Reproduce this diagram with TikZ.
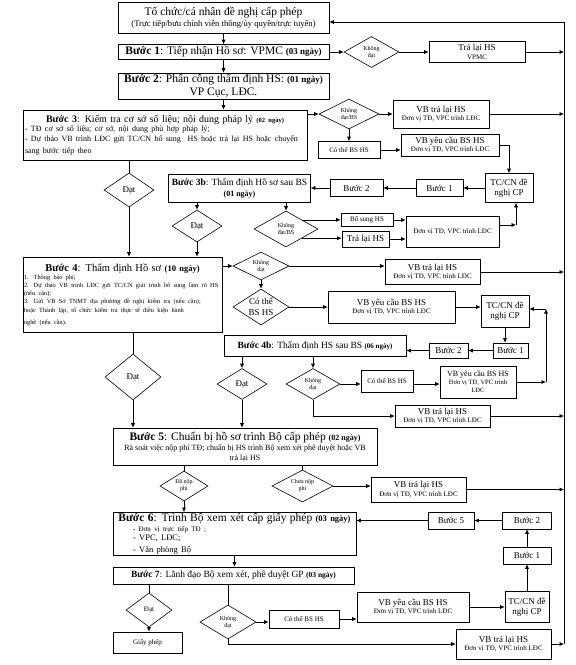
\documentclass[tikz,border=0pt]{standalone}
\usepackage{fontspec}
\setmainfont{Liberation Serif}
\usetikzlibrary{shapes.geometric,arrows.meta}

\newcommand{\ftitle}{\fontsize{11.5}{13}\selectfont}
\newcommand{\fmid}{\fontsize{9}{10.5}\selectfont}
\newcommand{\fsmall}{\fontsize{7}{8.2}\selectfont}
\newcommand{\ftiny}{\fontsize{6}{7}\selectfont}
\newcommand{\ngay}[2][9]{{\fontsize{#1}{#1}\selectfont\textbf{(#2 ngày)}}}

\begin{document}
\begin{tikzpicture}[x=1pt,y=-1pt,
  box/.style={draw, line width=0.6pt, inner sep=1pt, align=center},
  dia/.style={draw, diamond, shape aspect=1.6, line width=0.6pt, inner sep=0pt, align=center},
  wh/.style 2 args={minimum width=#1pt, minimum height=#2pt},
  arr/.style={-{Latex[length=4.5pt,width=4pt]}, line width=0.6pt},
  ln/.style={line width=0.6pt}]

\useasboundingbox (0,0) rectangle (576,665);
\coordinate (railtop) at (564,22);
\coordinate (railbot) at (564,644);

% Tổ chức/cá nhân đề nghị
\node[box, wh={211}{31}, font=\ftitle] (top) at (223.5,17.5) {Tổ chức/cá nhân đề nghị cấp phép\\[-2pt]{\fontsize{8.6}{9.5}\selectfont (Trực tiếp/bưu chính viễn thông/ủy quyền/trực tuyến)}};

% Bước 1
\node[box, wh={211}{15}, font=\ftitle] (s1) at (223.5,52) {\textbf{Bước 1}: Tiếp nhận Hồ sơ: VPMC \ngay{03}};
\node[dia, wh={55}{31}, font=\ftiny] (d1) at (371.5,52) {Không\\đạt};
\node[box, wh={96}{21}, font=\fmid] (b1) at (477,52) {Trả lại HS\\[-2pt]{\fsmall VPMC}};

% Bước 2
\node[box, wh={211}{26}, font=\ftitle] (s2) at (223.5,86) {\textbf{Bước 2}: Phân công thẩm định HS: \ngay{01}\\VP Cục, LĐC.};

% Bước 3
\node[box, wh={284}{50}, text width=280pt, align=left] (s3) at (165,135) {{\centering\fontsize{10}{12}\selectfont\textbf{Bước 3}: Kiểm tra cơ sở số liệu; nội dung pháp lý \ngay[6.5]{02}\par}\raggedright\fontsize{8}{9.5}\selectfont - TĐ cơ sở số liệu; cơ sở, nội dung phù hợp pháp lý;\\- Dự thảo VB trình LĐC gửi TC/CN bổ sung~ HS hoặc trả lại HS hoặc chuyển\\sang bước tiếp theo};
\node[dia, wh={60}{30}, font=\ftiny] (d3) at (349,114) {Không\\đạt/BS};
\node[box, wh={96}{28}, font=\fmid] (vb3) at (441,114) {VB trả lại HS\\[-2pt]{\fsmall Đơn vị TĐ, VPC trình LĐC}};
\node[box, wh={62}{17}, font=\fsmall] (ct3) at (349,150) {Có thể BS HS};
\node[box, wh={98}{22}, font=\fmid] (yc3) at (450,145) {VB yêu cầu BS HS\\[-2pt]{\fsmall Đơn vị TĐ, VPC trình LĐC}};
\node[box, wh={48}{29}, font=\fmid] (tc3) at (509,188) {TC/CN đề\\nghị CP};
\node[box, wh={47}{17}, font=\fmid] (b31) at (439.5,188) {Bước 1};
\node[box, wh={53}{17}, font=\fmid] (b32) at (356.5,188) {Bước 2};
\node[dia, wh={50}{34}, font=\fmid] (d3ok) at (129,190) {Đạt};

% Bước 3b
\node[box, wh={142}{28}, font=\fontsize{9.5}{11}\selectfont] (s3b) at (239.5,188) {\textbf{Bước 3b}: Thẩm định Hồ sơ sau BS\\\ngay[8]{01}};
\node[dia, wh={50}{32}, font=\fmid] (d3bok) at (197,226) {Đạt};
\node[dia, wh={64}{36}, font=\ftiny] (d3bno) at (286,229) {Không\\đạt/BS};
\node[box, wh={52}{13}, font=\fsmall] (bs3b) at (367,220) {Bổ sung HS};
\node[box, wh={47}{16}, font=\fmid] (tl3b) at (365.5,239) {Trả lại HS};
\node[box, wh={93}{31}, font=\fsmall] (dv3b) at (452.5,231.5) {Đơn vị TĐ, VPC trình LĐC};
\coordinate (j3b) at (516,225);

% Bước 4
\node[box, wh={199}{75}, text width=197pt, inner sep=1pt, align=left] (s4) at (122.5,294.5) {{\centering\fontsize{10.5}{12.5}\selectfont\textbf{Bước 4}: Thẩm định Hồ sơ \ngay[8.5]{10}\par}\raggedright\fontsize{6.3}{8.2}\selectfont 1. Thông báo phí;\\2. Dự thảo VB trình LĐC gửi TC/CN giải trình bổ sung làm rõ HS\\(nếu cần);\\3. Gửi VB Sở TNMT địa phương đề nghị kiểm tra (nếu cần);\\hoặc Thành lập, tổ chức kiểm tra thực tế điều kiện hành\\nghề (nếu cần).};
\node[dia, wh={56}{28}, font=\ftiny] (d4no) at (261,266) {Không\\đạt};
\node[dia, wh={56}{36}, font=\fmid] (d4bs) at (261,307) {Có thể\\BS HS};
\node[box, wh={95}{25}, font=\fmid] (vb4) at (432.5,272) {VB trả lại HS\\[-2pt]{\fsmall Đơn vị TĐ, VPC trình LĐC}};
\node[box, wh={127}{32}, font=\fmid] (yc4) at (391.5,307) {VB yêu cầu BS HS\\[-2pt]{\fsmall Đơn vị TĐ, VPC trình LĐC}};
\node[box, wh={48}{32}, font=\fmid] (tc4) at (505,311) {TC/CN đề\\nghị CP};
\node[box, wh={35}{15}, font=\fmid] (b41) at (510.5,350.5) {Bước 1};
\node[box, wh={39}{15}, font=\fmid] (b42) at (448.5,350.5) {Bước 2};
\coordinate (j4t) at (546,309);
\coordinate (j4b) at (546,382);
\node[dia, wh={56}{46}, font=\fmid] (d4ok) at (133,377) {Đạt};

% Bước 4b
\node[box, wh={182}{21}, font=\fontsize{9.5}{11}\selectfont] (s4b) at (315,345.5) {\textbf{Bước 4b}: Thẩm định HS sau BS \ngay[7]{06}};
\node[dia, wh={50}{31}, font=\fmid] (d4bok) at (242,384) {Đạt};
\node[dia, wh={54}{31}, font=\ftiny] (d4bno) at (313,384) {Không\\đạt};
\node[box, wh={52}{22}, font=\fsmall] (ct4b) at (387,381) {Có thể BS HS};
\node[box, wh={76}{32}, font=\fontsize{8}{9}\selectfont] (yc4b) at (478,382) {VB yêu cầu BS HS\\[-1pt]{\fontsize{6.5}{7.5}\selectfont Đơn vị TĐ, VPC trình}\\[-1pt]{\fontsize{6.5}{7.5}\selectfont LĐC}};
\node[box, wh={95}{22}, font=\fmid] (vb4b) at (442.5,416) {VB trả lại HS\\[-2pt]{\fsmall Đơn vị TĐ, VPC trình LĐC}};

% Bước 5
\node[box, wh={264}{37}, font=\ftitle] (s5) at (245,446.5) {\textbf{Bước 5}: Chuẩn bị hồ sơ trình Bộ cấp phép \ngay[8]{02}\\[-3pt]{\fontsize{8}{9.5}\selectfont Rà soát việc nộp phí TĐ; chuẩn bị HS trình Bộ xem xét phê duyệt hoặc VB}\\[-3pt]{\fontsize{8}{9.5}\selectfont trả lại HS}};
\node[dia, wh={48}{30}, font=\ftiny] (d5ok) at (184,486) {Đã nộp\\phí};
\node[dia, wh={61}{32}, font=\ftiny] (d5no) at (302.5,486) {Chưa nộp\\phí};
\node[box, wh={95}{25}, font=\fmid] (vb5) at (418.5,489.5) {VB trả lại HS\\[-2pt]{\fsmall Đơn vị TĐ, VPC trình LĐC}};

% Bước 6
\node[box, wh={243}{42}, text width=239pt, align=left] (s6) at (234.5,534) {{\centering\ftitle\textbf{Bước 6}: Trình Bộ xem xét cấp giấy phép \ngay[8.5]{03}\par}\raggedright\fontsize{8.5}{9.5}\selectfont\hspace*{18pt}{\fsmall\textbf{-} Đơn vị trực tiếp TĐ ;}\\\hspace*{18pt}- VPC, LĐC;\\\hspace*{18pt}- Văn phòng Bộ};
\node[box, wh={46}{17}, font=\fmid] (b65) at (451,520.5) {Bước 5};
\node[box, wh={49}{17}, font=\fmid] (b62) at (527,520.5) {Bước 2};
\node[box, wh={48}{17}, font=\fmid] (b61) at (527,555.5) {Bước 1};
\node[box, wh={44}{31}, font=\fmid] (tc7) at (527,607) {TC/CN đề\\nghị CP};

% Bước 7
\node[box, wh={241}{17}, font=\fontsize{9.5}{11}\selectfont] (s7) at (233.5,575.5) {\textbf{Bước 7}: Lãnh đạo Bộ xem xét, phê duyệt GP \ngay[7.5]{03}};
\node[dia, wh={46}{34}, font=\fsmall] (d7ok) at (149,610) {Đạt};
\node[box, wh={69}{21}, font=\fsmall] (gp) at (147.5,642.5) {Giấy phép};
\node[dia, wh={56}{34}, font=\ftiny] (d7no) at (228,622) {Không\\đạt};
\node[box, wh={70}{18}, font=\fsmall] (ct7) at (304,619) {Có thể BS HS};
\node[box, wh={112}{30}, font=\fmid] (yc7) at (413,607) {VB yêu cầu BS HS\\[-2pt]{\fsmall Đơn vị TĐ, VPC trình LĐC}};
\node[box, wh={95}{30}, font=\fmid] (vb7) at (503.5,644) {VB trả lại HS\\[-2pt]{\fsmall Đơn vị TĐ, VPC trình LĐC}};

% Đường trả lại bên phải
\draw[arr] (railbot) -- (railtop) -- (railtop -| top.east);

% Liaisons Bước 1 - 2
\draw[arr] (top) -- (s1);
\draw[arr] (s1) -- (s2);
\draw[arr] (s2.south) -- (s2.south |- s3.north);
\draw[arr] (s1) -- (d1);
\draw[arr] (d1) -- (b1);
\draw[arr] (b1.east) -- (b1.east -| railtop);

% Liaisons Bước 3
\draw[arr] (s3.east |- d3.west) -- (d3.west);
\draw[arr] (d3) -- (vb3);
\draw[arr] (vb3.east) -- (vb3.east -| railtop);
\draw[arr] (d3) -- (ct3);
\draw[arr] (ct3.east) -- (ct3.east -| yc3.west);
\draw[arr] (yc3.east) -| (tc3.north);
\draw[arr] (tc3) -- (b31);
\draw[arr] (b31) -- (b32);
\draw[arr] (b32) -- (s3b);
\draw[ln] (d3ok.north |- s3.south) -- (d3ok.north);
\draw[arr] (d3ok.south) -- (d3ok.south |- s4.north);

% Liaisons Bước 3b
\draw[arr] (d3bok.north |- s3b.south) -- (d3bok.north);
\draw[arr] (d3bno.north |- s3b.south) -- (d3bno.north);
\draw[arr] (d3bno.north east) -- (d3bno.north east -| bs3b.west);
\draw[arr] (d3bno.south east) -- (d3bno.south east -| tl3b.west);
\draw[arr] (bs3b.east) -- (bs3b.east -| dv3b.west);
\draw[arr] (tl3b.east) -- (tl3b.east -| dv3b.west);
\draw[arr] (dv3b.east |- j3b) -- (j3b);
\draw[arr] (j3b) -- (j3b |- tc3.south);
\draw[arr] (d3bok.south) -- (d3bok.south |- s4.north);

% Liaisons Bước 4
\draw[arr] (s4.east |- d4no.west) -- (d4no.west);
\draw[arr] (d4no) -- (d4bs);
\draw[arr] (d4no.east) -- (d4no.east -| vb4.west);
\draw[arr] (vb4.east) -- (vb4.east -| railtop);
\draw[arr] (d4bs.east) -- (d4bs.east -| yc4.west);
\draw[arr] (yc4.east) -- (yc4.east -| tc4.west);
\draw[arr] (j4b) -- (j4t);
\draw[arr] (j4t) -- (j4t -| tc4.east);
\draw[arr] (tc4.south) -- (tc4.south |- b41.north);
\draw[arr] (b41) -- (b42);
\draw[arr] (b42.west) -- (b42.west -| s4b.east);
\draw[ln] (d4ok.north |- s4.south) -- (d4ok.north);
\draw[arr] (d4ok.south) -- (d4ok.south |- s5.north);

% Liaisons Bước 4b
\draw[arr] (d4bok.north |- s4b.south) -- (d4bok.north);
\draw[arr] (d4bno.north |- s4b.south) -- (d4bno.north);
\draw[arr] (d4bno.east) -- (d4bno.east -| ct4b.west);
\draw[arr] (ct4b.east |- d4bno.east) -- (d4bno.east -| yc4b.west);
\draw[arr] (yc4b.east) -- (j4b);
\draw[arr] (d4bno.south) |- (vb4b.west);
\draw[arr] (vb4b.east) -- (vb4b.east -| railtop);
\draw[arr] (d4bok.south) -- (d4bok.south |- s5.north);

% Liaisons Bước 5
\draw[ln] (d5ok.north |- s5.south) -- (d5ok.north);
\draw[ln] (d5no.north |- s5.south) -- (d5no.north);
\draw[arr] (d5ok.south) -- (d5ok.south |- s6.north);
\draw[arr] (d5no.east) -- (d5no.east -| vb5.west);
\draw[arr] (vb5.east) -- (vb5.east -| railtop);

% Liaisons Bước 6
\draw[arr] (s6.south) -- (s6.south |- s7.north);
\draw[arr] (tc7) -- (b61);
\draw[arr] (b61) -- (b62);
\draw[arr] (b62) -- (b65);
\draw[arr] (b65.west) -- (b65.west -| s6.east);

% Liaisons Bước 7
\draw[ln] (d7ok.north |- s7.south) -- (d7ok.north);
\draw[arr] (d7ok.south) -- (d7ok.south |- gp.north);
\draw[ln] (d7no.north |- s7.south) -- (d7no.north);
\draw[arr] (d7no.east) -- (d7no.east -| ct7.west);
\draw[arr] (ct7.east) -- (ct7.east -| yc7.west);
\draw[arr] (yc7) -- (tc7);
\draw[arr] (d7no.south) |- (vb7.west);
\draw[arr] (vb7.east) -- (vb7.east -| railtop);

\end{tikzpicture}
\end{document}
